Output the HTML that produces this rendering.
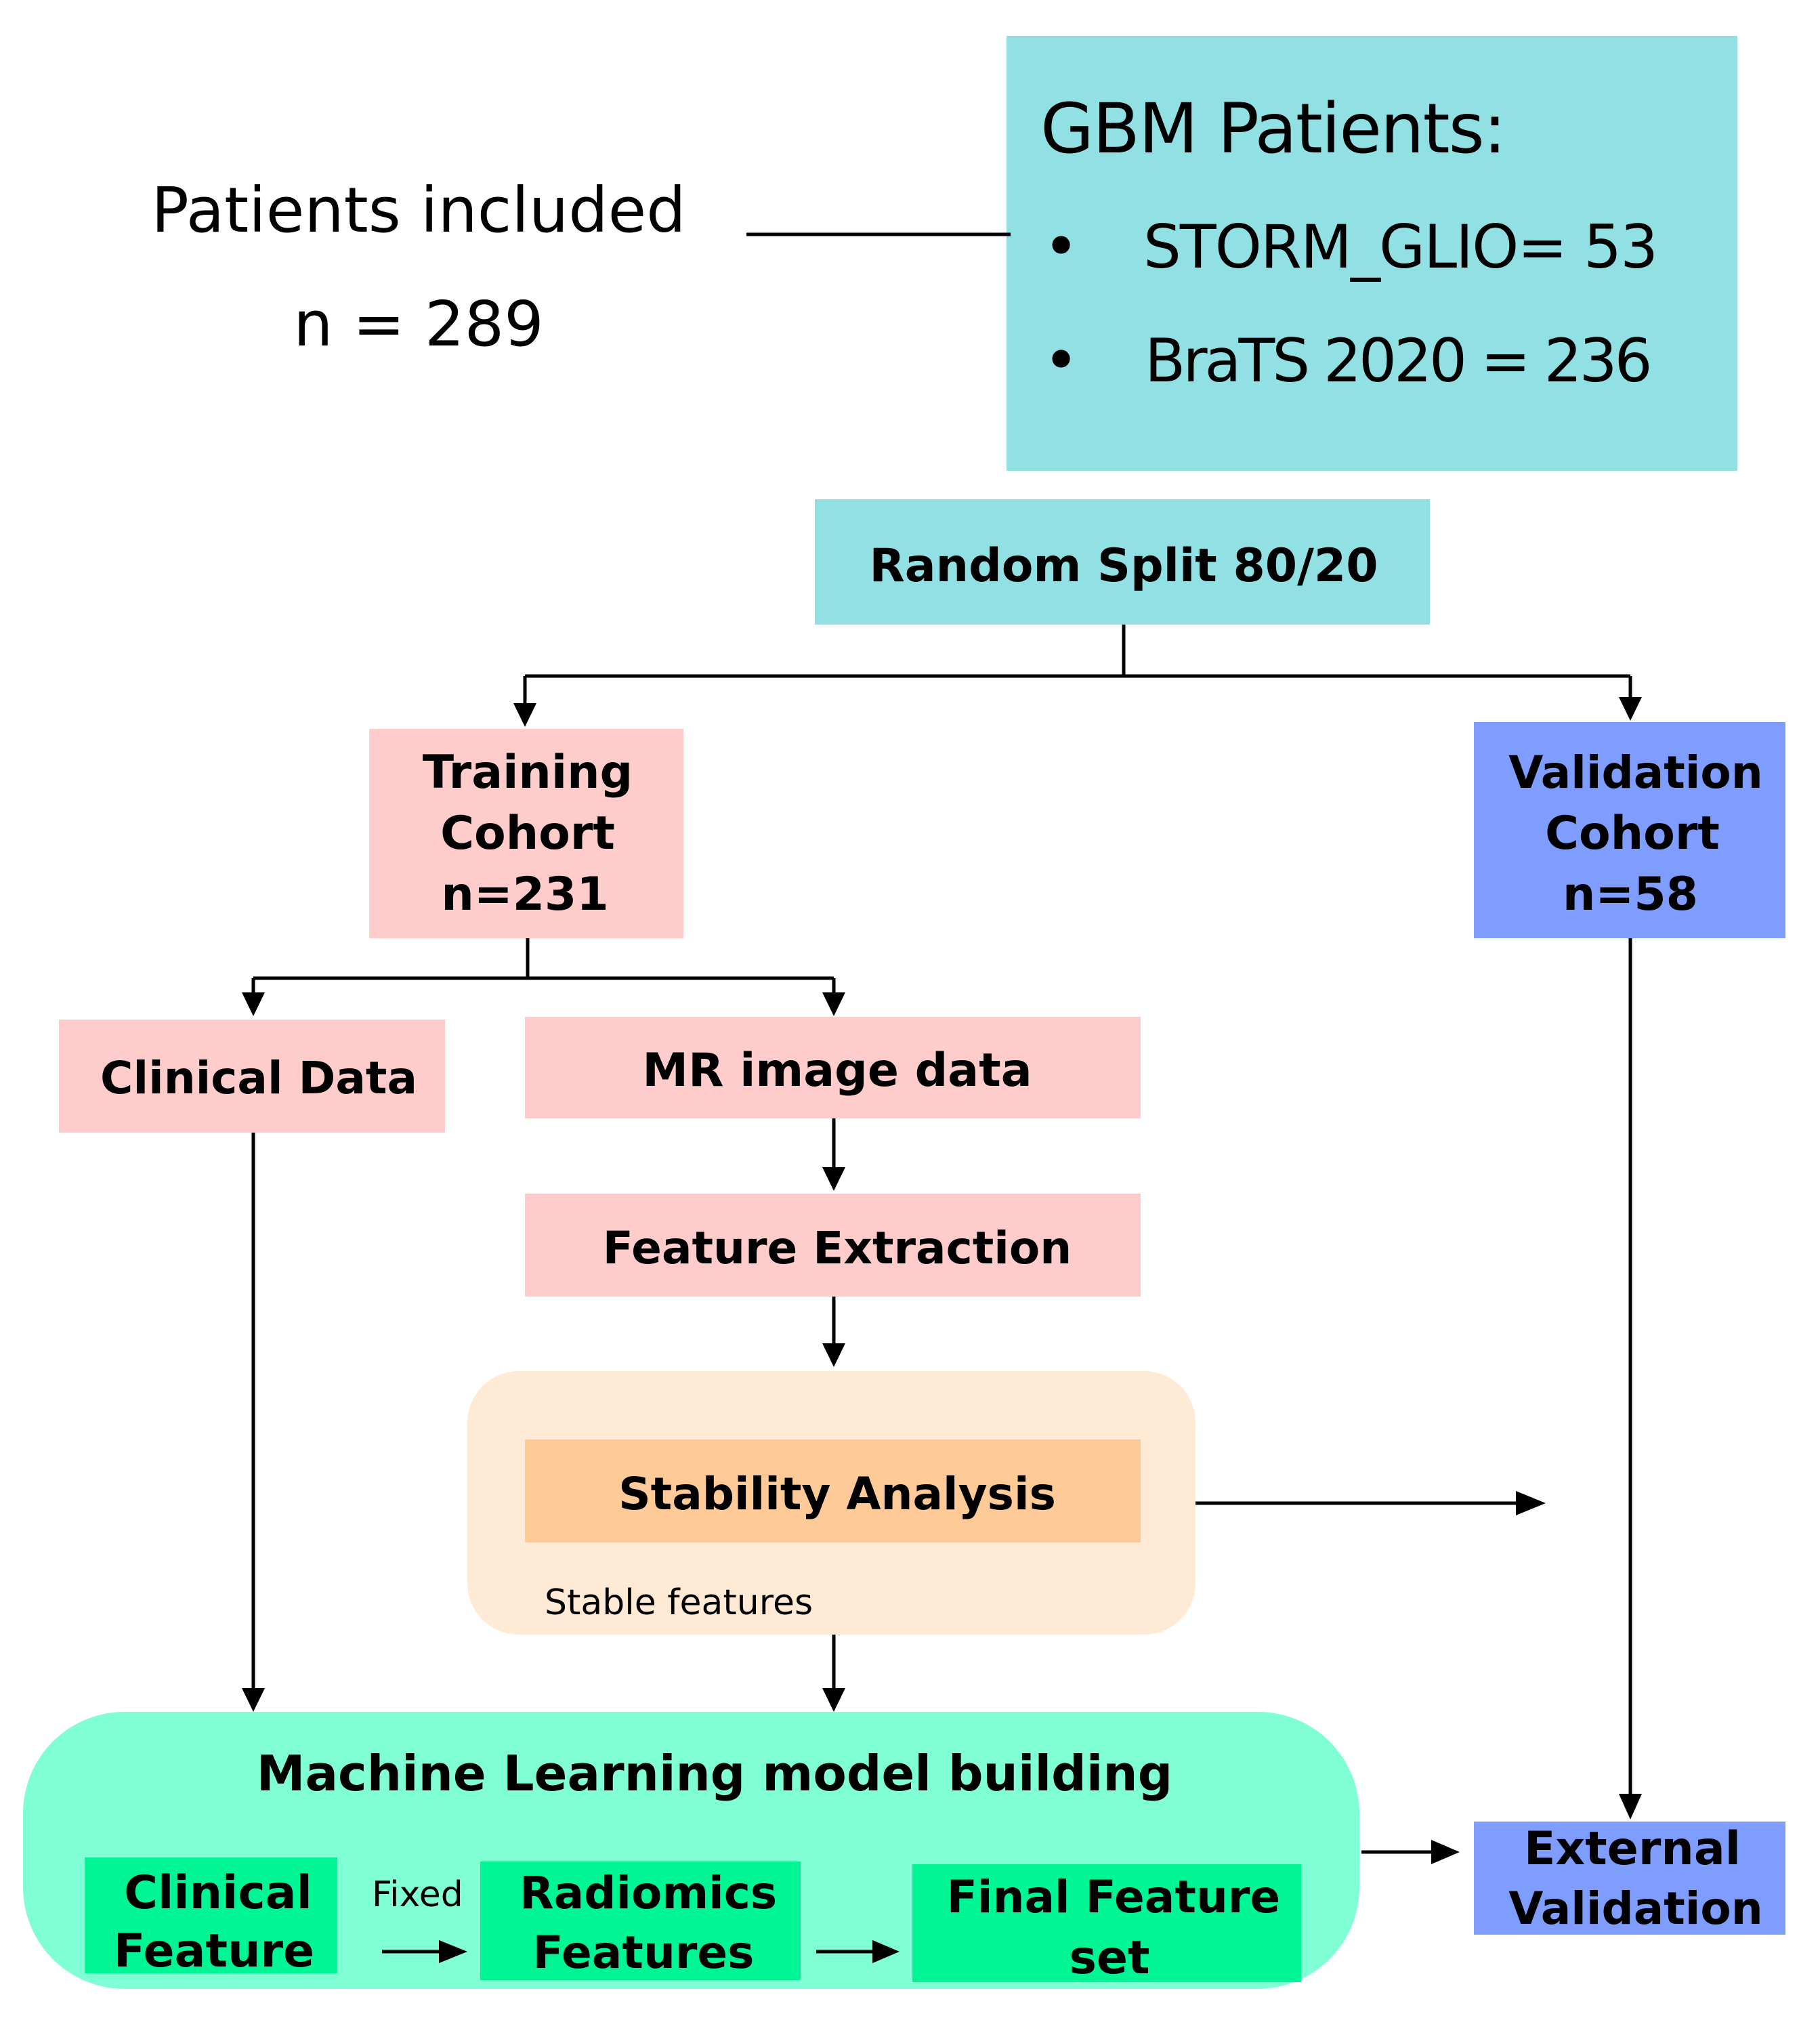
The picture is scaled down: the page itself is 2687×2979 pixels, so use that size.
<!DOCTYPE html>
<html><head><meta charset="utf-8"><style>html,body{margin:0;padding:0;background:#fff}svg{display:block}</style></head>
<body>
<svg width="2687" height="2979" viewBox="0 0 2687 2979" xmlns="http://www.w3.org/2000/svg">
<style>
text{font-family:"DejaVu Sans","Liberation Sans",sans-serif;fill:#000}
.b{font-weight:bold}
.l{stroke:#000;stroke-width:5;fill:none}
</style>
<!-- boxes -->
<rect x="1486" y="53" width="1079" height="642" fill="#91e0e3"/>
<rect x="1203" y="737" width="908" height="185" fill="#91e0e3"/>
<rect x="545" y="1076" width="464" height="309" fill="#ffcccc"/>
<rect x="2176" y="1066" width="460" height="319" fill="#7f9cff"/>
<rect x="87" y="1505" width="570" height="167" fill="#ffcccc"/>
<rect x="775" y="1501" width="909" height="150" fill="#ffcccc"/>
<rect x="775" y="1762" width="909" height="152" fill="#ffcccc"/>
<rect x="690" y="2024" width="1075" height="389" rx="76" fill="#ffead5"/>
<rect x="775" y="2125" width="909" height="152" fill="#fecb98"/>
<rect x="34" y="2527" width="1973" height="409" rx="150" fill="#80ffd4"/>
<rect x="125" y="2742" width="373" height="171" fill="#00f595"/>
<rect x="709" y="2748" width="473" height="175" fill="#00f595"/>
<rect x="1347" y="2752" width="574" height="174" fill="#00f595"/>
<rect x="2176" y="2689" width="460" height="167" fill="#7f9cff"/>

<!-- lines -->
<g class="l">
<path d="M1102 346H1492"/>
<path d="M1659 922V998M775 998H2407M775 998V1050M2407 998V1040"/>
<path d="M779 1385V1444M374 1444H1231M374 1444V1475M1231 1444V1475"/>
<path d="M1231 1651V1733M1231 1914V1993"/>
<path d="M1765 2219H2250"/>
<path d="M1231 2413V2502M374 1672V2502M2407 1385V2660"/>
<path d="M564 2881H660M1205 2881H1298M2010 2734H2125"/>
</g>
<g fill="#000">
<polygon points="758,1038 792,1038 775,1073"/>
<polygon points="2390,1029 2424,1029 2407,1064"/>
<polygon points="357,1465 391,1465 374,1500"/>
<polygon points="1214,1465 1248,1465 1231,1500"/>
<polygon points="1214,1723 1248,1723 1231,1758"/>
<polygon points="1214,1983 1248,1983 1231,2018"/>
<polygon points="2238,2201 2238,2237 2282,2219"/>
<polygon points="1214,2492 1248,2492 1231,2527"/>
<polygon points="357,2492 391,2492 374,2527"/>
<polygon points="2390,2648 2424,2648 2407,2686"/>
<polygon points="648,2864 648,2898 690,2881"/>
<polygon points="1288,2864 1288,2898 1328,2881"/>
<polygon points="2113,2716 2113,2752 2155,2734"/>
</g>

<!-- text -->
<text x="618" y="342" font-size="92" text-anchor="middle">Patients included</text>
<text x="618" y="510" font-size="92" text-anchor="middle">n = 289</text>
<text x="1536" y="225" font-size="102" letter-spacing="-2">GBM Patients:</text>
<text x="1540" y="395" font-size="90">•</text>
<text x="1688" y="395" font-size="88" letter-spacing="-2">STORM_GLIO= 53</text>
<text x="1540" y="563" font-size="90">•</text>
<text x="1690" y="563" font-size="88" letter-spacing="-4">BraTS 2020 = 236</text>

<g class="b" text-anchor="middle">
<text x="1659" y="858" font-size="68">Random Split 80/20</text>
<text x="779" y="1163" font-size="68">Training</text>
<text x="779" y="1253" font-size="68">Cohort</text>
<text x="775" y="1343" font-size="68">n=231</text>
<text x="2415" y="1163" font-size="66">Validation</text>
<text x="2410" y="1253" font-size="68">Cohort</text>
<text x="2407" y="1343" font-size="68">n=58</text>
<text x="382" y="1614" font-size="66">Clinical Data</text>
<text x="1236" y="1603" font-size="68">MR image data</text>
<text x="1236" y="1865" font-size="66">Feature Extraction</text>
<text x="1236" y="2228" font-size="66">Stability Analysis</text>
<text x="1055" y="2643" font-size="72">Machine Learning model building</text>
<text x="322" y="2817" font-size="68">Clinical</text>
<text x="316" y="2903" font-size="68">Feature</text>
<text x="957" y="2817" font-size="66">Radiomics</text>
<text x="950" y="2905" font-size="66">Features</text>
<text x="1644" y="2823" font-size="66">Final Feature</text>
<text x="1638" y="2913" font-size="68">set</text>
<text x="2410" y="2752" font-size="68">External</text>
<text x="2415" y="2840" font-size="66">Validation</text>
</g>
<text x="804" y="2383" font-size="52">Stable features</text>
<text x="549" y="2814" font-size="52">Fixed</text>
</svg>
</body></html>
